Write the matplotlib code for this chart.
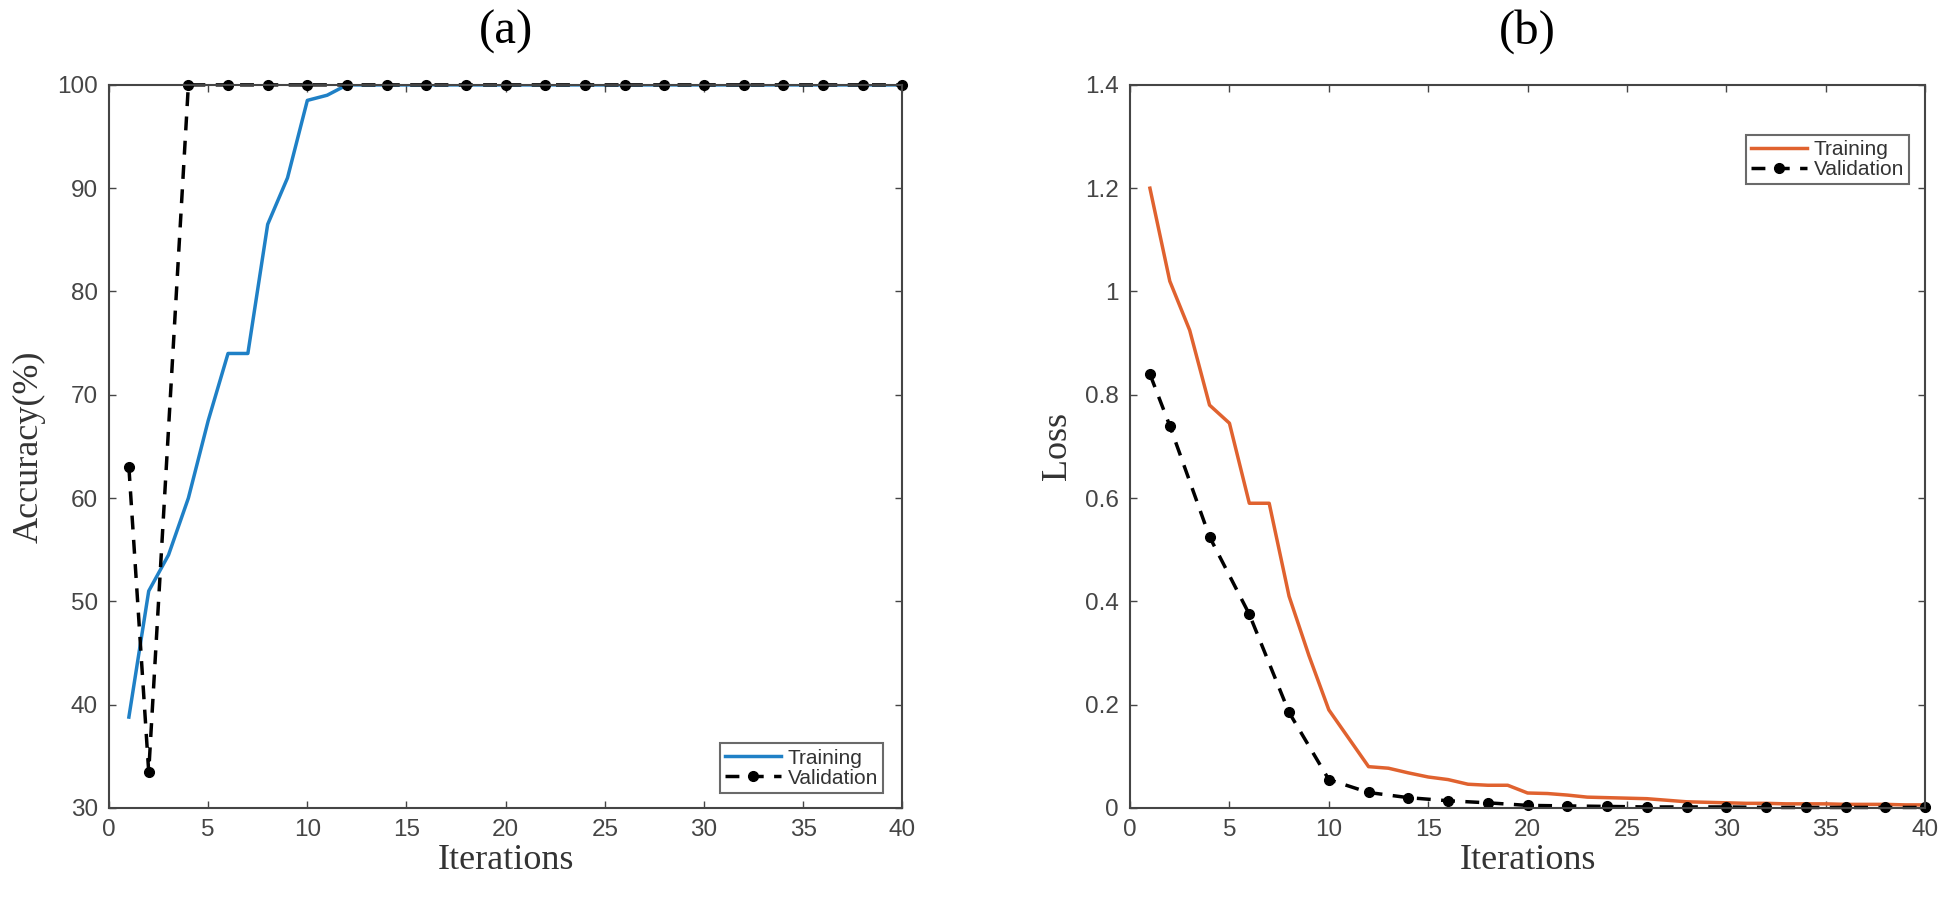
import matplotlib
matplotlib.use("Agg")
import matplotlib.pyplot as plt

# iterations
iters = [1, 2, 3, 4, 5, 6, 7, 8, 9, 10, 11, 12, 13, 14, 15, 16, 17, 18, 19, 20,
         21, 22, 23, 24, 25, 26, 27, 28, 29, 30, 31, 32, 33, 34, 35, 36, 37, 38, 39, 40]
val_iters = [1, 2, 4, 6, 8, 10, 12, 14, 16, 18, 20, 22, 24, 26, 28, 30, 32, 34, 36, 38, 40]

# (a) accuracy
train_acc = [38.8, 51, 54.5, 60, 67.5, 74, 74, 86.5, 91, 98.5, 99, 100, 100, 100, 100, 100, 100, 100, 100, 100,
             100, 100, 100, 100, 100, 100, 100, 100, 100, 100, 100, 100, 100, 100, 100, 100, 100, 100, 100, 100]
val_acc = [63, 33.5, 100, 100, 100, 100, 100, 100, 100, 100, 100, 100, 100, 100, 100, 100, 100, 100, 100, 100, 100]

# (b) loss
train_loss = [1.2, 1.02, 0.925, 0.78, 0.745, 0.59, 0.59, 0.41, 0.295, 0.19, 0.135, 0.08, 0.077, 0.068, 0.06,
              0.055, 0.046, 0.044, 0.044, 0.029, 0.028, 0.025, 0.021, 0.02, 0.019, 0.018, 0.015, 0.012,
              0.011, 0.01, 0.009, 0.009, 0.008, 0.008, 0.008, 0.007, 0.007, 0.007, 0.006, 0.006]
val_loss = [0.84, 0.74, 0.525, 0.375, 0.185, 0.055, 0.03, 0.02, 0.014, 0.01, 0.005, 0.004, 0.003, 0.002,
            0.002, 0.002, 0.001, 0.001, 0.001, 0.001, 0.001]

serif = "Liberation Serif"
sans = "Liberation Sans"
axcol = "#454545"

fig = plt.figure(figsize=(19.44, 9.05), dpi=100)
ax1 = fig.add_axes([0.0561, 0.1072, 0.408, 0.799])
ax2 = fig.add_axes([0.5813, 0.1072, 0.409, 0.799])


def style(ax, ylim, yticks, ylabel, title):
    ax.set_xlim(0, 40)
    ax.set_ylim(*ylim)
    ax.set_xticks([0, 5, 10, 15, 20, 25, 30, 35, 40])
    ax.set_yticks(yticks)
    ax.tick_params(direction="in", top=True, right=True, length=5, width=1,
                   colors=axcol, labelsize=17.5, pad=8)
    for lab in ax.get_xticklabels() + ax.get_yticklabels():
        lab.set_fontfamily(sans)
    for sp in ax.spines.values():
        sp.set_color(axcol)
        sp.set_linewidth(1.5)
    ax.set_xlabel("Iterations", fontfamily=serif, fontsize=26, color="#333333", labelpad=2)
    ax.set_ylabel(ylabel, fontfamily=serif, fontsize=26, color="#333333", labelpad=8)
    ax.set_title(title, fontfamily=serif, fontsize=35, pad=30)


legend_kw = dict(prop={"family": sans, "size": 15}, fancybox=False, handlelength=2.7,
                 borderpad=0.25, labelspacing=0.05, handletextpad=0.3, borderaxespad=0)

ax1.plot(iters, train_acc, color="#1f80c6", lw=2.5, label="Training")
ax1.plot(val_iters, val_acc, color="black", ls="--", lw=2.5, marker="o", ms=7,
         dashes=(4, 3), label="Validation", clip_on=False)
style(ax1, (30, 100), [30, 40, 50, 60, 70, 80, 90, 100], "Accuracy(%)", "(a)")
leg1 = ax1.legend(loc="lower right", bbox_to_anchor=(0.976, 0.021), **legend_kw)

ax2.plot(iters, train_loss, color="#E0622F", lw=2.5, label="Training")
ax2.plot(val_iters, val_loss, color="black", ls="--", lw=2.5, marker="o", ms=7,
         dashes=(4, 3), label="Validation", clip_on=False)
style(ax2, (0, 1.4), [0, 0.2, 0.4, 0.6, 0.8, 1, 1.2, 1.4], "Loss", "(b)")
ax2.set_yticklabels(["0", "0.2", "0.4", "0.6", "0.8", "1", "1.2", "1.4"], fontfamily=sans)
leg2 = ax2.legend(loc="upper right", bbox_to_anchor=(0.98, 0.931), **legend_kw)

for leg in (leg1, leg2):
    leg.get_frame().set_edgecolor(axcol)
    leg.get_frame().set_linewidth(1.5)
    for t in leg.get_texts():
        t.set_color("#333333")

fig.savefig("out.png", dpi=100)
